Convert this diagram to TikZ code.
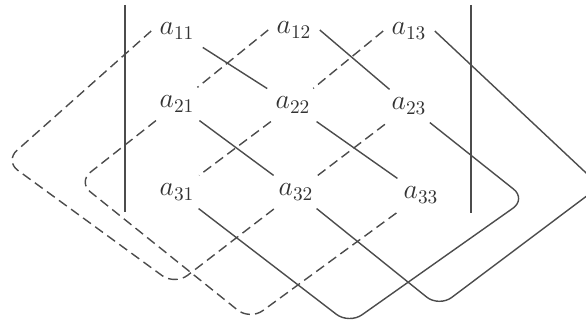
\documentclass[tikz,border=0pt]{standalone}

\begin{document}
\begin{tikzpicture}[x=0.02cm,y=-0.02cm,line width=0.8pt,draw=black!70,
  elem/.style={inner sep=4pt,text=black!80,font=\Large,scale=1.1,transform shape},
  roundloop/.style={rounded corners=9pt},
  minusterm/.style={dash pattern=on 5.5pt off 3pt}]
  \useasboundingbox (0,0) rectangle (586,323);
  \clip (0,0) rectangle (586,323);
  \node[elem] (a11) at (177,31) {$a_{11}$};
  \node[elem] (a12) at (294,30) {$a_{12}$};
  \node[elem] (a13) at (409,31) {$a_{13}$};
  \node[elem] (a21) at (177,104) {$a_{21}$};
  \node[elem] (a22) at (293,105) {$a_{22}$};
  \node[elem] (a23) at (409,106) {$a_{23}$};
  \node[elem] (a31) at (177,192) {$a_{31}$};
  \node[elem] (a32) at (296,192) {$a_{32}$};
  \node[elem] (a33) at (421,195) {$a_{33}$};
  \coordinate (R1) at (526,199);
  \coordinate (B1) at (349,324);
  \coordinate (R2) at (600,186);
  \coordinate (B2) at (439,307);
  \coordinate (L1) at (5,161);
  \coordinate (B3) at (175,285);
  \coordinate (L2) at (78,182);
  \coordinate (B4) at (250,320);
  \draw (125,5)--(125,212);
  \draw (471,5)--(471,213);
  \draw (a11)--(a22)--(a33);
  \draw[roundloop] (a12.east)--(a23)--(R1)--(B1)--(a31);
  \draw[roundloop] (a13.east)--(R2)--(B2)--(a32)--(a21);
  \draw[minusterm] (a13.west)--(a22)--(a31);
  \draw[minusterm,roundloop] (a12.west)--(a21)--(L2)--(B4)--(a33);
  \draw[minusterm,roundloop] (a11.west)--(L1)--(B3)--(a32)--(a23);
\end{tikzpicture}
\end{document}
